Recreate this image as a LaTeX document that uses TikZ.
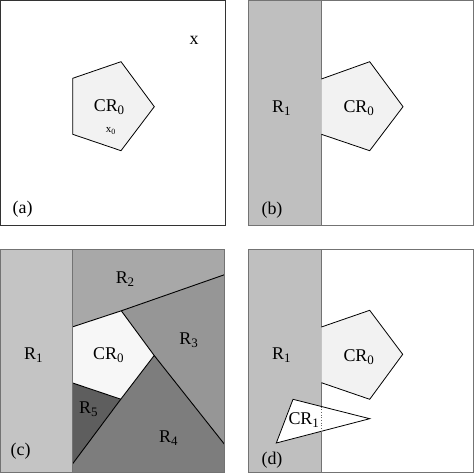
\documentclass[tikz,border=0pt]{standalone}
\usepackage{fontspec}
\setmainfont{Liberation Serif}
\newcommand\lowidx[1]{\raisebox{-0.35ex}{\fontsize{13}{13}\selectfont #1}}
\begin{document}
\begin{tikzpicture}[x=1bp,y=-1bp,
  lbl/.style={font=\fontsize{18}{18}\selectfont, inner sep=0pt},
  frame/.style={draw=black!55, line width=1bp},
  pent/.style={draw=black, line width=0.8bp, fill=black!5},
  edge/.style={draw=black, line width=0.9bp}]
\useasboundingbox (0,0) rectangle (474,474);
\fill[white] (0,0) rectangle (474,474);
% ---------- panel (a)
\draw[frame, draw=black!80] (0.5,1) rectangle (225,225);
\draw[pent] (72.7,78.3) -- (121,61.7) -- (154.3,106.7) -- (121,150.7) -- (72.7,134.3) -- cycle;
\node[lbl] (a-cr) at (109,107) {CR\lowidx{0}};
\node[inner sep=0pt, font=\fontsize{11}{11}\selectfont] (a-x0) at (110.7,131) {x\lowidx{\fontsize{8}{8}\selectfont 0}};
\node[lbl] (a-x) at (194,40) {x};
\node[lbl] (a-tag) at (22.7,209) {(a)};
% ---------- panel (b)
\fill[black!25] (248.7,1) rectangle (321.4,225);
\draw[frame] (248.7,1) rectangle (473.5,225);
\draw[frame] (321.4,1) -- (321.4,225);
\draw[pent] (321.4,79) -- (369.7,61.7) -- (403,106.7) -- (369.7,150.7) -- (321.4,134.3);
\node[lbl] (b-r1) at (281.3,108.3) {R\lowidx{1}};
\node[lbl] (b-cr) at (358.7,108.3) {CR\lowidx{0}};
\node[lbl] (b-tag) at (272,210) {(b)};
% ---------- panel (c)
\coordinate (c1) at (72.7,326.8);
\coordinate (c2) at (121.3,310.8);
\coordinate (c3) at (154.2,355.5);
\coordinate (c4) at (120.8,399.2);
\coordinate (c5) at (72.7,383);
\coordinate (r2e) at (224.5,274.7);
\coordinate (r3e) at (224.5,444.3);
\coordinate (r5e) at (72.7,463.7);
\fill[black!23] (0.5,249.3) rectangle (72.7,472);
\fill[black!34] (72.7,249.3) -- (224.5,249.3) -- (r2e) -- (c2) -- (c1) -- cycle;
\fill[black!41] (c2) -- (r2e) -- (r3e) -- (c3) -- cycle;
\fill[black!51] (c3) -- (r3e) -- (224.5,472) -- (72.7,472) -- (r5e) -- (c4) -- cycle;
\fill[black!63] (c5) -- (c4) -- (r5e) -- cycle;
\fill[black!3] (c1) -- (c2) -- (c3) -- (c4) -- (c5) -- cycle;
\draw[edge] (c1) -- (c2) -- (r2e);
\draw[edge] (c2) -- (c3) -- (r3e);
\draw[edge] (c3) -- (c4) -- (r5e);
\draw[edge] (c4) -- (c5);
\draw[frame] (0.5,249.3) rectangle (224.5,472);
\draw[frame] (72.7,249.3) -- (72.7,472);
\node[lbl] (c-r1) at (33.3,355.3) {R\lowidx{1}};
\node[lbl] (c-r2) at (125,278.7) {R\lowidx{2}};
\node[lbl] (c-r3) at (188.7,340.3) {R\lowidx{3}};
\node[lbl] (c-r4) at (168.3,438) {R\lowidx{4}};
\node[lbl] (c-r5) at (88.3,409.3) {R\lowidx{5}};
\node[lbl] (c-cr) at (108.3,355.3) {CR\lowidx{0}};
\node[lbl] (c-tag) at (20.7,451.3) {(c)};
% ---------- panel (d)
\fill[black!25] (248.7,249.3) rectangle (321.4,472);
\draw[frame] (248.7,249.3) rectangle (473.5,472);
\draw[frame] (321.4,249.3) -- (321.4,472);
\draw[pent] (321.4,327) -- (369.7,310.3) -- (402.7,354.3) -- (369.7,399.3) -- (321.4,382.7);
\coordinate (t1) at (293,399.3);
\coordinate (t2) at (369.7,418.7);
\coordinate (t3) at (276.3,443);
\draw[black, line width=0.8bp, fill=white] (t1) -- (t2) -- (t3) -- cycle;
\coordinate (dt) at (321.4,406.5);
\coordinate (db) at (321.4,431.3);
\draw[black!60, dotted, line width=0.7bp] (dt) -- (db);
\node[lbl] (d-r1) at (281.3,355.3) {R\lowidx{1}};
\node[lbl] (d-cr) at (358.7,357) {CR\lowidx{0}};
\node[lbl] (d-cr1) at (303.7,420.3) {CR\lowidx{1}};
\node[lbl] (d-tag) at (272,459.7) {(d)};
\end{tikzpicture}
\end{document}
